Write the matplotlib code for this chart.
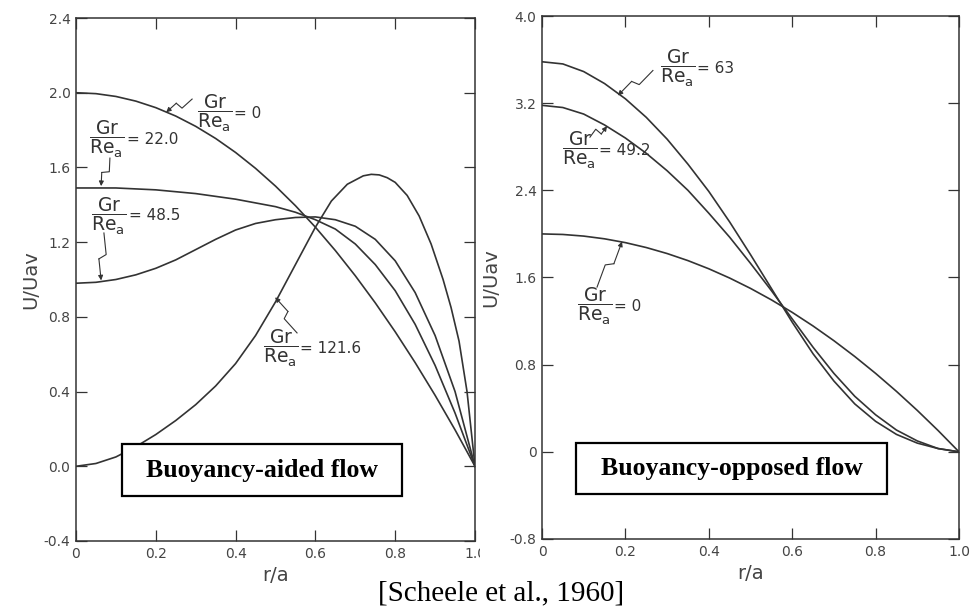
import numpy as np
import matplotlib
matplotlib.use('Agg')
import matplotlib.pyplot as plt
from matplotlib.patches import Rectangle

plt.rcParams['mathtext.default'] = 'regular'
plt.rcParams['font.family'] = 'DejaVu Sans'

# velocity profiles u/u_av vs r/a, buoyancy-aided flow
r_aid = [0, 0.05, 0.1, 0.15, 0.2, 0.25, 0.3, 0.35, 0.4, 0.45, 0.5, 0.55,
         0.6, 0.65, 0.7, 0.75, 0.8, 0.85, 0.9, 0.95, 1.0]
aid_gr0 = [2.0, 1.995, 1.98, 1.955, 1.92, 1.875, 1.82, 1.755, 1.68, 1.595, 1.5,
           1.395, 1.28, 1.155, 1.02, 0.875, 0.72, 0.555, 0.38, 0.195, 0.0]
aid_gr22 = [1.49, 1.49, 1.49, 1.485, 1.48, 1.47, 1.46, 1.445, 1.43, 1.41, 1.39,
            1.36, 1.32, 1.27, 1.19, 1.08, 0.94, 0.76, 0.54, 0.285, 0.0]
aid_gr48 = [0.98, 0.985, 1.0, 1.025, 1.06, 1.105, 1.16, 1.215, 1.265, 1.30, 1.32,
            1.332, 1.335, 1.32, 1.285, 1.215, 1.10, 0.93, 0.70, 0.40, 0.0]
r_aid121 = [0, 0.05, 0.1, 0.15, 0.2, 0.25, 0.3, 0.35, 0.4, 0.45, 0.5, 0.55, 0.6,
            0.64, 0.68, 0.72, 0.74, 0.76, 0.78, 0.8, 0.83, 0.86, 0.89, 0.92,
            0.94, 0.96, 0.98, 1.0]
aid_gr121 = [0.0, 0.015, 0.05, 0.105, 0.17, 0.245, 0.33, 0.43, 0.55, 0.70, 0.88,
             1.08, 1.28, 1.42, 1.51, 1.555, 1.563, 1.56, 1.545, 1.52, 1.45, 1.34,
             1.19, 1.0, 0.85, 0.67, 0.40, 0.0]

# buoyancy-opposed flow
r_opp = r_aid
opp_gr0 = aid_gr0
opp_gr49 = [3.18, 3.16, 3.10, 3.00, 2.88, 2.74, 2.58, 2.40, 2.19, 1.97, 1.73,
            1.48, 1.22, 0.96, 0.72, 0.51, 0.34, 0.20, 0.10, 0.03, 0.0]
opp_gr63 = [3.58, 3.56, 3.49, 3.38, 3.24, 3.07, 2.87, 2.64, 2.39, 2.11, 1.81,
            1.50, 1.19, 0.90, 0.65, 0.44, 0.28, 0.16, 0.08, 0.03, 0.0]

xticks = [0, 0.2, 0.4, 0.6, 0.8, 1.0]
xticklabels = ['0', '0.2', '0.4', '0.6', '0.8', '1.0']
aid_yticks = [-0.4, 0.0, 0.4, 0.8, 1.2, 1.6, 2.0, 2.4]
aid_yticklabels = ['-0.4', '0.0', '0.4', '0.8', '1.2', '1.6', '2.0', '2.4']
opp_yticks = [-0.8, 0, 0.8, 1.6, 2.4, 3.2, 4.0]
opp_yticklabels = ['-0.8', '0', '0.8', '1.6', '2.4', '3.2', '4.0']

ink = '#333333'

fig = plt.figure(figsize=(9.71, 6.10), dpi=100)
ax1 = fig.add_axes([76/971, 1-541/610, 399/971, 523/610])
ax2 = fig.add_axes([542/971, 1-539/610, 417/971, 523/610])


def style(ax, yticks, ylabels, ylim):
    ax.set_xlim(0, 1)
    ax.set_ylim(*ylim)
    ax.set_xticks(xticks)
    ax.set_xticklabels(xticklabels)
    ax.set_yticks(yticks)
    ax.set_yticklabels(ylabels)
    ax.tick_params(direction='in', length=8, width=0.9, color=ink,
                   labelsize=10, labelcolor='#444444', top=True, right=True, pad=4)
    for s in ax.spines.values():
        s.set_color(ink)
        s.set_linewidth(1.1)
    ax.set_xlabel('r/a', fontsize=14, color='#444444', labelpad=4)


labels = []


def fraction(ax, x, y, val):
    t = ax.text(x, y, r'$\dfrac{Gr}{Re_a}$', fontsize=13.5, color='#333333',
                ha='left', va='center')
    labels.append((ax, t, val))


def place_values():
    # put "= value" just right of each fraction bar
    fig.canvas.draw()
    r = fig.canvas.get_renderer()
    for ax, t, val in labels:
        bb = t.get_window_extent(r)
        xd, yd = ax.transData.inverted().transform((bb.x1 + 2, (bb.y0 + bb.y1) / 2))
        ax.text(xd, yd, '= ' + val, fontsize=11, color='#333333',
                ha='left', va='center')


def zigzag(ax, tail, head):
    # arrow with a small kink in the middle, built in pixel space
    t = ax.transData.transform(tail)
    h = ax.transData.transform(head)
    d = h - t
    n = np.array([-d[1], d[0]]) / np.hypot(*d) * 3.5
    p1 = t + 0.45*d + n
    p2 = t + 0.55*d - n
    inv = ax.transData.inverted()
    pts = inv.transform(np.array([t, p1, p2]))
    ax.plot(pts[:, 0], pts[:, 1], color=ink, lw=0.8)
    ax.annotate('', xy=head, xytext=tuple(pts[2]),
                arrowprops=dict(arrowstyle='-|>', color=ink, lw=0.8,
                                mutation_scale=7, shrinkA=0, shrinkB=0))


# left: buoyancy-aided
for yv in [aid_gr0, aid_gr22, aid_gr48]:
    ax1.plot(r_aid, yv, color=ink, lw=1.2)
ax1.plot(r_aid121, aid_gr121, color=ink, lw=1.2)
style(ax1, aid_yticks, aid_yticklabels, (-0.4, 2.4))
ax1.yaxis.set_label_coords(-0.09, 0.49)
ax1.set_ylabel('U/Uav', fontsize=14, color='#444444')

fraction(ax1, 0.303, 1.89, '0')
fraction(ax1, 0.033, 1.75, '22.0')
fraction(ax1, 0.038, 1.34, '48.5')
fraction(ax1, 0.469, 0.63, '121.6')
zigzag(ax1, (0.291, 1.966), (0.226, 1.895))
zigzag(ax1, (0.085, 1.65), (0.063, 1.50))
zigzag(ax1, (0.07, 1.249), (0.063, 0.995))
zigzag(ax1, (0.554, 0.714), (0.499, 0.905))

ax1.add_patch(Rectangle((0.115, -0.159), 0.702, 0.278, fill=True, fc='white',
                        ec='black', lw=1.6, zorder=5))
ax1.text(0.466, -0.02, 'Buoyancy-aided flow', family='Liberation Serif',
         fontweight='bold', fontsize=18.5, ha='center', va='center', zorder=6)

# right: buoyancy-opposed
for yv in [opp_gr0, opp_gr49, opp_gr63]:
    ax2.plot(r_opp, yv, color=ink, lw=1.2)
style(ax2, opp_yticks, opp_yticklabels, (-0.8, 4.0))
ax2.yaxis.set_label_coords(-0.1, 0.46)
ax2.set_ylabel('U/Uav', fontsize=14, color='#444444')

fraction(ax2, 0.283, 3.52, '63')
fraction(ax2, 0.048, 2.77, '49.2')
fraction(ax2, 0.084, 1.33, '0')
zigzag(ax2, (0.266, 3.50), (0.182, 3.27))
zigzag(ax2, (0.115, 2.888), (0.156, 2.99))
zigzag(ax2, (0.132, 1.512), (0.192, 1.93))

ax2.add_patch(Rectangle((0.082, -0.387), 0.745, 0.468, fill=True, fc='white',
                        ec='black', lw=1.6, zorder=5))
ax2.text(0.4545, -0.153, 'Buoyancy-opposed flow', family='Liberation Serif',
         fontweight='bold', fontsize=18.5, ha='center', va='center', zorder=6)

# right panel sits on top of the left one's last tick label
ax2.set_zorder(2)
fig.add_artist(Rectangle((480/971, 0.06), 491/971, 0.94, transform=fig.transFigure,
                         fc='white', ec='none', zorder=1))

fig.text(501/971, 1-593/610, '[Scheele et al., 1960]', family='Liberation Serif',
         fontsize=21, ha='center', va='center', zorder=3)

place_values()
fig.savefig('out.png', dpi=100)
